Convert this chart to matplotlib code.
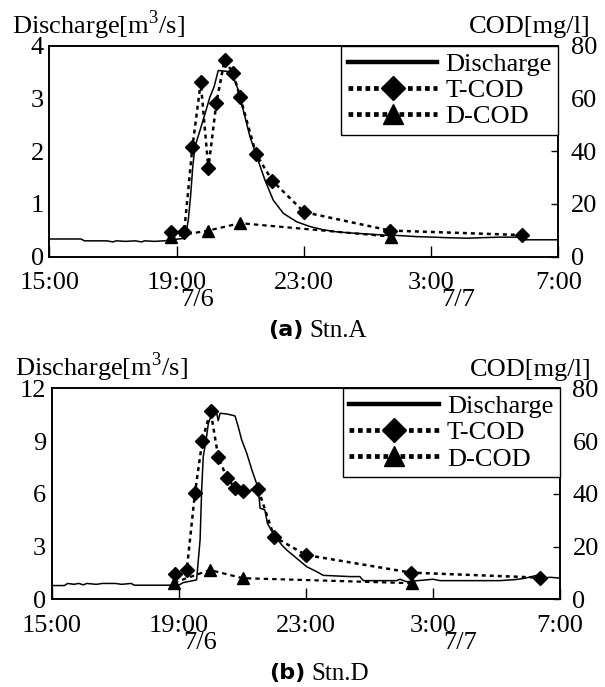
import matplotlib
matplotlib.use("Agg")
import matplotlib.pyplot as plt

# fonts: serif for everything, bold gothic for the panel letter
plt.rcParams['font.family'] = ['Liberation Serif', 'DejaVu Serif']
plt.rcParams['mathtext.fontset'] = 'custom'
plt.rcParams['mathtext.rm'] = 'Liberation Serif'
fs = 19

# time axis (hours from 0:00 on 7/6, >24 means 7/7)
tick_hours = [15, 19, 23, 27, 31]
tick_labels = ["15:00", "19:00", "23:00", "3:00", "7:00"]

# ---- Stn.A ----
a_q_t = [15.0, 16.0, 16.1, 16.8, 17.0, 17.1, 17.4, 17.7, 17.9, 18.0, 18.3, 18.6, 19.0,
         19.27, 19.37, 19.44, 19.51, 19.58, 19.74, 19.90, 20.05, 20.18, 20.31, 20.63,
         20.78, 20.94, 21.15, 21.31, 21.52, 21.78, 22.04, 22.36, 22.78, 23.2, 23.61,
         24.04, 24.45, 25.0, 25.5, 26.0, 26.55, 27.07, 27.5, 28.12, 28.6, 29.17, 29.8,
         29.9, 31.0]
a_q = [0.335, 0.335, 0.30, 0.30, 0.28, 0.30, 0.29, 0.30, 0.28, 0.30, 0.29, 0.30, 0.33,
       0.35, 0.70, 1.14, 1.71, 2.09, 2.40, 2.72, 3.03, 3.22, 3.53, 3.51,
       3.41, 3.16, 2.65, 2.27, 1.90, 1.45, 1.07, 0.82, 0.66, 0.57, 0.51,
       0.47, 0.45, 0.43, 0.41, 0.40, 0.38, 0.37, 0.36, 0.35, 0.36, 0.37, 0.37,
       0.32, 0.32]
a_tcod_t = [18.82, 19.24, 19.50, 19.76, 20.00, 20.25, 20.51, 20.78, 21.00, 21.50,
            22.01, 23.01, 25.71, 29.85]
a_tcod = [9.3, 9.5, 41.7, 66.1, 33.5, 58.2, 74.6, 69.5, 60.4, 38.9, 28.8, 16.9, 9.9, 8.2]
a_dcod_t = [18.82, 20.0, 21.0, 25.74]
a_dcod = [7.5, 9.9, 12.7, 7.6]

# ---- Stn.D ----
d_q_t = [15.0, 15.4, 15.5, 15.7, 15.85, 16.0, 16.1, 16.4, 16.6, 17.0, 17.2, 17.5, 17.6,
         18.0, 18.5, 19.0, 19.14, 19.56, 19.67, 19.72, 19.77, 19.86, 19.93, 20.04,
         20.19, 20.24, 20.30, 20.51, 20.77, 20.87, 20.98, 21.14, 21.30, 21.50, 21.56,
         21.71, 21.79, 21.97, 22.24, 22.40, 22.71, 23.03, 23.34, 23.55, 24.39, 24.7,
         24.81, 25.86, 25.96, 26.17, 27.01, 27.22, 29.11, 29.6, 29.9, 30.27, 30.4,
         30.7, 31.0]
d_q = [0.78, 0.78, 0.9, 0.85, 0.9, 0.82, 0.9, 0.85, 0.9, 0.9, 0.85, 0.9, 0.8,
       0.8, 0.8, 0.8, 0.95, 1.10, 3.37, 6.22, 8.11, 9.06, 10.0, 10.54,
       10.61, 10.16, 10.58, 10.54, 10.43, 9.82, 9.06, 8.30, 7.36, 6.31, 5.18,
       5.08, 4.32, 3.75, 3.09, 2.80, 2.33, 1.85, 1.57, 1.36, 1.29, 1.29,
       1.06, 1.06, 1.14, 1.0, 1.14, 1.06, 1.06, 1.12, 1.2, 1.36, 1.2,
       1.25, 1.2]
d_tcod_t = [18.88, 19.25, 19.51, 19.74, 20.0, 20.24, 20.51, 20.77, 21.01, 21.5,
            22.0, 23.0, 26.31, 30.37]
d_tcod = [9.6, 11.1, 40.4, 60.1, 71.5, 54.1, 46.1, 42.3, 41.1, 41.7, 23.7, 16.8, 10.1, 8.2]
d_dcod_t = [18.85, 19.98, 21.01, 26.33]
d_dcod = [6.3, 11.1, 8.0, 6.1]


def draw_panel(fig, rect, q_t, q, tcod_t, tcod, dcod_t, dcod, qmax, qticks, caption):
    ax = fig.add_axes(rect)
    ax2 = ax.twinx()

    l1, = ax.plot(q_t, q, '-', color='black', lw=1.1, label='Discharge')
    l2, = ax2.plot(tcod_t, tcod, linestyle=(0, (1.6, 1.6)), color='black', lw=1.8,
                   marker='D', ms=7.5, label='T-COD')
    l3, = ax2.plot(dcod_t, dcod, linestyle=(0, (2, 1.8)), color='black', lw=1.6,
                   marker='^', ms=9, label='D-COD')

    ax.set_xlim(15, 31)
    ax.set_ylim(0, qmax)
    ax2.set_ylim(0, 80)
    ax.set_xticks(tick_hours)
    ax.set_xticklabels(tick_labels, fontsize=fs)
    ax.set_yticks(qticks)
    ax.set_yticklabels([str(v) for v in qticks], fontsize=fs)
    ax2.set_yticks([0, 20, 40, 60, 80])
    ax2.set_yticklabels(['0', '20', '40', '60', '80'], fontsize=fs)
    ax.tick_params(axis='x', direction='in', length=8, width=1, pad=11)
    ax.tick_params(axis='y', length=0, pad=4)
    ax2.tick_params(axis='y', direction='in', length=5, width=1, pad=9)
    for a in (ax, ax2):
        for s in a.spines.values():
            s.set_linewidth(1.2)

    # axis titles above the plot
    ax.text(-0.073, 1.058, 'Discharge[m$^3$/s]', transform=ax.transAxes,
            ha='left', va='baseline', fontsize=fs)
    ax.text(1.063, 1.058, 'COD[mg/l]', transform=ax.transAxes,
            ha='right', va='baseline', fontsize=fs)

    # date labels under the time ticks
    ax.text(19.66, -0.155, '7/6', transform=ax.get_xaxis_transform(),
            ha='center', va='top', fontsize=fs)
    ax.text(27.85, -0.155, '7/7', transform=ax.get_xaxis_transform(),
            ha='center', va='top', fontsize=fs)

    # caption
    ax.text(0.5, -0.3, caption[0], transform=ax.transAxes, ha='right', va='top',
            fontsize=fs - 3, fontweight='bold', family=['DejaVu Sans'])
    ax.text(0.51, -0.3, caption[1], transform=ax.transAxes, ha='left', va='top',
            fontsize=fs - 1)

    leg = ax2.legend([l1, l2, l3], ['Discharge', 'T-COD', 'D-COD'], loc='upper right',
                     fontsize=fs, frameon=True, fancybox=False, framealpha=1,
                     edgecolor='black', borderaxespad=0, handlelength=3.4,
                     handletextpad=0.3, borderpad=0.25, labelspacing=0.1,
                     markerscale=1.6)
    leg.get_frame().set_linewidth(1.0)
    lines = leg.get_lines()
    lines[0].set_linewidth(3.2)
    for ln in lines[1:]:
        ln.set_linewidth(3.4)
        ln.set_dashes([1, 0.8])


fig = plt.figure(figsize=(6.05, 6.87), dpi=100)
draw_panel(fig, [0.0815, 0.6264, 0.8413, 0.3071], a_q_t, a_q, a_tcod_t, a_tcod,
           a_dcod_t, a_dcod, 4, [0, 1, 2, 3, 4], ('(a)', 'Stn.A'))
draw_panel(fig, [0.0855, 0.1277, 0.8401, 0.3071], d_q_t, d_q, d_tcod_t, d_tcod,
           d_dcod_t, d_dcod, 12, [0, 3, 6, 9, 12], ('(b)', 'Stn.D'))

fig.savefig('out.png', dpi=100)
